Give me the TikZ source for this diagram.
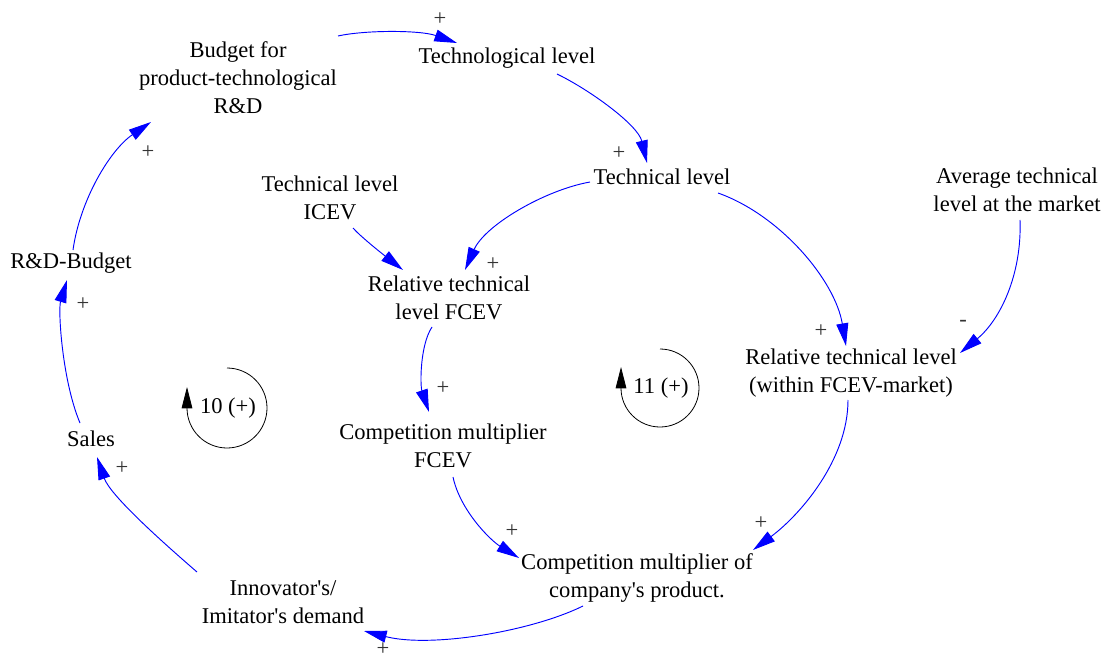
\documentclass[tikz,border=0pt]{standalone}
\usepackage{fontspec}
\setmainfont{Liberation Serif}
\usetikzlibrary{arrows.meta}
\begin{document}
\begin{tikzpicture}[x=0.75pt,y=-0.75pt,
  var/.style={align=center,font=\fontsize{16.9}{21}\selectfont,inner sep=0pt,text=black},
  pol/.style={font=\fontsize{16.9}{20}\selectfont,inner sep=0pt,text=black!80},
  cl/.style={draw=blue,line width=0.7pt,-{Triangle[length=17pt,width=9pt,fill=blue]}},
  loopc/.style={draw=black,line width=0.6pt,-{Triangle[length=16pt,width=8pt,fill=black]}}]
\fill[white] (0,0) rectangle (1106,659);
\useasboundingbox (0,0) rectangle (1106,659);
% variables
\node[var] (bud) at (238,78) {Budget for\\product-technological\\R\&D};
\node[var] (tech) at (507,58) {Technological level};
\node[var] (tl) at (662,177) {Technical level};
\node[var] (icev) at (330,198) {Technical level\\ICEV};
\node[var] (avg) at (1017,190) {Average technical\\level at the market};
\node[var] (rd) at (71,263) {R\&D-Budget};
\node[var] (rfcev) at (449,298) {Relative technical\\level FCEV};
\node[var] (rwith) at (851,373) {Relative technical level\\(within FCEV-market)};
\node[var] (cmf) at (443,446) {Competition multiplier\\FCEV};
\node[var] (sales) at (91,439) {Sales};
\node[var] (cmc) at (637,578) {Competition multiplier of\\company\textquotesingle s product.};
\node[var] (inn) at (283,602) {Innovator\textquotesingle s/\\Imitator\textquotesingle s demand};
% loops
\node[var] (l10) at (228,408) {10 (+)};
\node[var] (l11) at (661,388) {11 (+)};
\draw[loopc] ([shift={(-1,-40)}]l10.center) arc[start angle=-90,end angle=180,radius=40] -- ++(0,-21);
\draw[loopc] ([shift={(-1,-39)}]l11.center) arc[start angle=-90,end angle=180,radius=39] -- ++(0,-21);
% causal links
\draw[cl] ([shift={(100,-42)}]bud.center) .. controls +(27,-6) and +(-37,-13) .. ([shift={(-50,-15)}]tech.center);
\draw[cl] ([shift={(50,16)}]tech.center) .. controls +(33,16) and +(-9,-38) .. ([shift={(-15,-14)}]tl.center);
\draw[cl] ([shift={(-72,5)}]tl.center) .. controls +(-45,8) and +(20,-45) .. ([shift={(16,-28)}]rfcev.center);
\draw[cl] ([shift={(23,30)}]icev.center) .. controls +(7,8) and +(-23,-18) .. ([shift={(-46,-28)}]rfcev.center);
\draw[cl] ([shift={(56,16)}]tl.center) .. controls +(62,22) and +(-11,-66) .. ([shift={(-5,-27)}]rwith.center);
\draw[cl] ([shift={(3,30)}]avg.center) .. controls +(2,55) and +(40,-33) .. ([shift={(109,-20)}]rwith.center);
\draw[cl] ([shift={(-17,29)}]rfcev.center) .. controls +(-12,18) and +(-9,-27) .. ([shift={(-14,-34)}]cmf.center);
\draw[cl] ([shift={(10,31)}]cmf.center) .. controls +(7,33) and +(-29,-18) .. ([shift={(-118,-20)}]cmc.center);
\draw[cl] ([shift={(-3,27)}]rwith.center) .. controls +(0,60) and +(47,-35) .. ([shift={(116,-28)}]cmc.center);
\draw[cl] ([shift={(-54,28)}]cmc.center) .. controls +(-53,26) and +(66,17) .. ([shift={(81,29)}]inn.center);
\draw[cl] ([shift={(-86,-30)}]inn.center) .. controls +(-37,-32) and +(13,38) .. ([shift={(6,18)}]sales.center);
\draw[cl] ([shift={(-11,-16)}]sales.center) .. controls +(-18,-43) and +(-9,30) .. ([shift={(-4,17)}]rd.center);
\draw[cl] ([shift={(2,-13)}]rd.center) .. controls +(7,-50) and +(-41,28) .. ([shift={(-87,44)}]bud.center);
% polarities
\node[pol] (p1) at (440,19) {+};
\node[pol] (p2) at (619,153) {+};
\node[pol] (p3) at (493,264) {+};
\node[pol] (p4) at (821,331) {+};
\node[pol] (p5) at (963,323) {-};
\node[pol] (p6) at (443,388) {+};
\node[pol] (p7) at (512,531) {+};
\node[pol] (p8) at (761,523) {+};
\node[pol] (p9) at (383,649) {+};
\node[pol] (p10) at (122,468) {+};
\node[pol] (p11) at (83,304) {+};
\node[pol] (p12) at (148,152) {+};
\end{tikzpicture}
\end{document}
